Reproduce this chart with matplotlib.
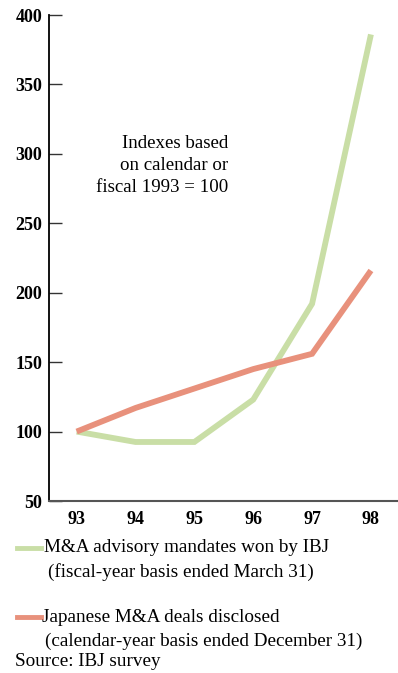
import matplotlib
matplotlib.use("Agg")
import matplotlib.pyplot as plt
from matplotlib.lines import Line2D

years = [93, 94, 95, 96, 97, 98]
year_labels = ["93", "94", "95", "96", "97", "98"]
ibj_mandates = [100, 92.5, 92.5, 123, 192, 386]
japan_deals = [100, 117, 131, 145, 156, 216]
y_ticks = [50, 100, 150, 200, 250, 300, 350, 400]

green = "#c9dea6"
red = "#e8917c"
serif = ["Liberation Serif", "DejaVu Serif"]

fig = plt.figure(figsize=(3.98, 6.73), dpi=100)
ax = fig.add_axes([49 / 398, 1 - 501 / 673, 1 - 49 / 398, (501 - 15) / 673])

ax.plot(years, ibj_mandates, color=green, lw=4.2, solid_joinstyle="miter", solid_capstyle="butt")
ax.plot(years, japan_deals, color=red, lw=4.2, solid_joinstyle="miter", solid_capstyle="butt")

ax.set_xlim(92.53, 98.46)
ax.set_ylim(50, 400)
ax.set_yticks(y_ticks)
ax.set_yticklabels([str(v) for v in y_ticks], fontfamily=serif, fontweight="bold", fontsize=13)
ax.set_xticks(years)
ax.set_xticklabels(year_labels, fontfamily=serif, fontweight="bold", fontsize=13)
ax.tick_params(axis="y", direction="in", length=9, width=1, pad=5, color="#333333")
ax.tick_params(axis="x", length=0, pad=7)

for side in ("top", "right"):
    ax.spines[side].set_visible(False)
ax.spines["left"].set_linewidth(1.3)
ax.spines["left"].set_color("black")
ax.spines["bottom"].set_linewidth(1.5)
ax.spines["bottom"].set_color("#555555")

for i, line in enumerate(["Indexes based", "on calendar or", "fiscal 1993 = 100"]):
    fig.text(228 / 398, 1 - (143 + 22 * i) / 673, line, ha="right", va="center",
             fontfamily=serif, fontsize=13.6)

# legend entries
def legend_entry(y, color, first, second, x_text, x_second):
    fig.add_artist(Line2D([17 / 398, 41 / 398], [1 - y / 673] * 2, color=color, lw=3.5,
                          transform=fig.transFigure))
    fig.text(x_text / 398, 1 - y / 673, first, ha="left", va="center",
             fontfamily=serif, fontsize=13.8)
    fig.text(x_second / 398, 1 - (y + 24) / 673, second, ha="left", va="center",
             fontfamily=serif, fontsize=13.8)

legend_entry(548, green, "M&A advisory mandates won by IBJ",
             "(fiscal-year basis ended March 31)", 44, 48)
legend_entry(617, red, "Japanese M&A deals disclosed",
             "(calendar-year basis ended December 31)", 42, 45)
fig.text(15 / 398, 1 - 662 / 673, "Source: IBJ survey", ha="left", va="center",
         fontfamily=serif, fontsize=13.8)

fig.savefig("out.png", dpi=100)
